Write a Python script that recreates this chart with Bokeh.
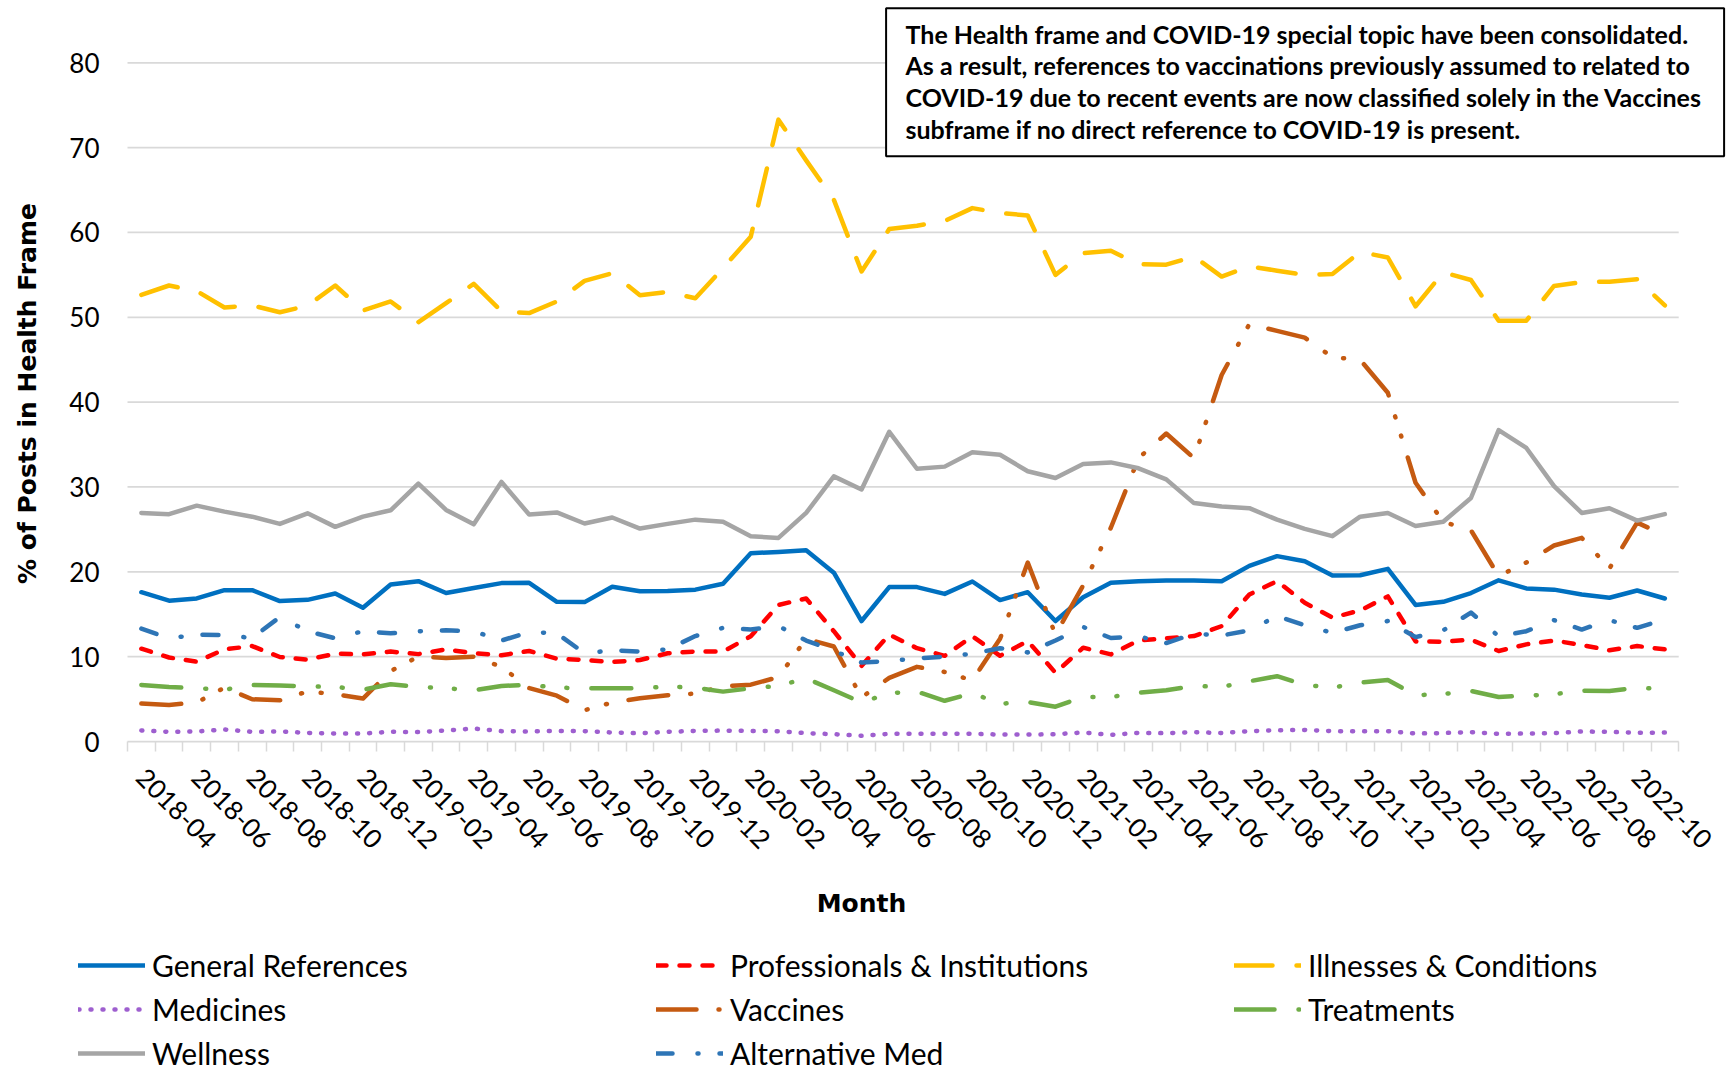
import math
from bokeh.plotting import figure
from bokeh.models import (Range1d, FixedTicker, Legend, LegendItem, Label, BoxAnnotation)
from bokeh.embed import file_html
from bokeh.resources import INLINE

# ---------------- data ----------------
months = ["2018-04", "2018-05", "2018-06", "2018-07", "2018-08", "2018-09", "2018-10", "2018-11", "2018-12",
          "2019-01", "2019-02", "2019-03", "2019-04", "2019-05", "2019-06", "2019-07", "2019-08", "2019-09",
          "2019-10", "2019-11", "2019-12", "2020-01", "2020-02", "2020-03", "2020-04", "2020-05", "2020-06",
          "2020-07", "2020-08", "2020-09", "2020-10", "2020-11", "2020-12", "2021-01", "2021-02", "2021-03",
          "2021-04", "2021-05", "2021-06", "2021-07", "2021-08", "2021-09", "2021-10", "2021-11", "2021-12",
          "2022-01", "2022-02", "2022-03", "2022-04", "2022-05", "2022-06", "2022-07", "2022-08", "2022-09",
          "2022-10", "2022-11"]

general_references = [17.6, 16.6, 16.86, 17.84, 17.84, 16.55, 16.7, 17.45, 15.76, 18.5, 18.9, 17.5, 18.1, 18.67,
                      18.7, 16.47, 16.43, 18.24, 17.7, 17.73, 17.9, 18.6, 22.2, 22.35, 22.55, 19.9, 14.2, 18.2,
                      18.2, 17.4, 18.86, 16.67, 17.6, 14.2, 17.0, 18.7, 18.9, 18.98, 18.98, 18.9, 20.7, 21.85,
                      21.25, 19.57, 19.6, 20.35, 16.1, 16.47, 17.5, 19.0, 18.04, 17.9, 17.33, 16.94, 17.8, 16.86]

professionals_institutions = [10.94, 9.9, 9.4, 10.86, 11.25, 9.96, 9.65, 10.35, 10.27, 10.6, 10.3, 10.86, 10.4,
                              10.16, 10.67, 9.76, 9.6, 9.37, 9.6, 10.4, 10.6, 10.6, 12.4, 16.1, 16.86, 13.0, 8.9,
                              12.6, 11.0, 10.1, 12.4, 10.1, 11.84, 8.1, 11.06, 10.27, 11.9, 12.16, 12.43, 13.6,
                              17.33, 18.9, 16.35, 14.6, 15.45, 17.1, 11.8, 11.76, 12.0, 10.67, 11.45, 11.9, 11.37,
                              10.75, 11.25, 10.86]

illnesses_conditions = [52.65, 53.75, 53.1, 51.16, 51.4, 50.6, 51.36, 53.75, 50.8, 51.87, 49.43, 51.67, 53.95,
                        50.7, 50.5, 51.87, 54.3, 55.2, 52.6, 53.0, 52.25, 55.8, 59.5, 73.3, 68.5, 63.85, 55.4,
                        60.4, 60.8, 61.35, 62.87, 62.3, 62.0, 55.0, 57.56, 57.84, 56.27, 56.2, 57.17, 54.8, 56.0,
                        55.5, 55.0, 55.1, 57.7, 57.05, 51.3, 55.3, 54.4, 49.6, 49.6, 53.7, 54.15, 54.2, 54.5, 51.4]

medicines = [1.3, 1.14, 1.18, 1.41, 1.14, 1.18, 1.02, 0.94, 0.94, 1.14, 1.12, 1.29, 1.53, 1.22, 1.18, 1.25, 1.22,
             1.06, 0.97, 1.14, 1.25, 1.29, 1.25, 1.22, 0.98, 0.86, 0.67, 0.9, 0.9, 0.9, 0.9, 0.82, 0.82, 0.86,
             1.06, 0.78, 1.02, 0.98, 1.1, 1.0, 1.22, 1.33, 1.37, 1.22, 1.22, 1.22, 0.94, 1.0, 1.1, 0.9, 0.94,
             0.98, 1.18, 1.14, 1.02, 1.06]

vaccines = [4.47, 4.31, 4.6, 6.35, 4.98, 4.86, 5.9, 5.57, 5.06, 8.3, 10.0, 9.85, 10.0, 8.8, 6.3, 5.4, 3.69, 4.6,
            5.1, 5.45, 5.65, 6.5, 6.7, 7.6, 12.1, 11.2, 5.2, 7.5, 8.8, 8.2, 7.2, 12.1, 21.1, 12.6, 18.4, 25.2,
            33.4, 36.3, 33.4, 43.2, 49.2, 48.4, 47.6, 45.3, 45.0, 41.1, 30.5, 25.9, 24.9, 19.5, 21.1, 23.1, 24.0,
            20.4, 25.8, 24.3]

treatments = [6.67, 6.43, 6.27, 6.1, 6.67, 6.6, 6.5, 6.43, 6.1, 6.75, 6.43, 6.27, 6.04, 6.55, 6.67, 6.35, 6.27,
              6.27, 6.27, 6.47, 6.35, 5.88, 6.27, 6.55, 7.45, 6.04, 4.6, 5.7, 5.88, 4.8, 5.7, 4.45, 4.65, 4.1, 5.25,
              5.25, 5.75, 6.04, 6.55, 6.43, 7.1, 7.7, 6.67, 6.35, 6.94, 7.25, 5.45, 5.6, 5.96, 5.25, 5.4, 5.57,
              6.0, 5.96, 6.35, 6.16]

wellness = [26.94, 26.8, 27.8, 27.1, 26.5, 25.65, 26.9, 25.3, 26.5, 27.25, 30.4, 27.3, 25.6, 30.6, 26.75, 27.0,
            25.7, 26.4, 25.1, 25.65, 26.15, 25.9, 24.2, 24.0, 26.94, 31.25, 29.7, 36.5, 32.15, 32.4, 34.1, 33.8,
            31.85, 31.06, 32.7, 32.9, 32.2, 30.9, 28.1, 27.7, 27.5, 26.15, 25.06, 24.2, 26.5, 26.94, 25.4, 25.9,
            28.7, 36.7, 34.6, 30.1, 26.94, 27.5, 26.04, 26.8]

alternative_med = [13.3, 12.16, 12.6, 12.55, 12.2, 14.67, 13.0, 12.16, 13.0, 12.75, 13.0, 13.1, 13.0, 11.9, 12.9,
                   12.75, 10.4, 10.75, 10.6, 10.86, 12.43, 13.4, 13.2, 13.6, 11.9, 10.7, 9.3, 9.5, 9.8, 10.0,
                   10.35, 11.0, 10.5, 11.9, 13.5, 12.2, 12.4, 11.6, 12.7, 12.5, 13.1, 14.8, 13.7, 12.8, 13.7,
                   14.2, 12.3, 13.1, 15.2, 12.4, 13.0, 14.3, 13.2, 14.3, 13.4, 14.4]

series_names = ["General References", "Professionals & Institutions", "Illnesses & Conditions", "Medicines",
                "Vaccines", "Treatments", "Wellness", "Alternative Med"]
y_ticks = [0, 10, 20, 30, 40, 50, 60, 70, 80]
note_lines = ["The Health frame and COVID-19 special topic have been consolidated.",
              "As a result, references to vaccinations previously assumed to related to",
              "COVID-19 due to recent events are now classified solely in the Vaccines",
              "subframe if no direct reference to COVID-19 is present."]

# ---------------- styles ----------------
styles = [
    ("#0070C0", "solid"),
    ("#FF0000", "10 13"),
    ("#FFC000", "38 24"),
    ("#9E5FCF", "1 11"),
    ("#C55A11", "40 22 1 19 1 22"),
    ("#70AD47", "40 24 1 23 1 24"),
    ("#A5A5A5", "solid"),
    ("#2E75B6", "16 25 1 21"),
]
all_series = [general_references, professionals_institutions, illnesses_conditions, medicines,
              vaccines, treatments, wellness, alternative_med]

n = len(months)
xs = list(range(n))

# frame covers the whole canvas; axes are pinned inside it
W, H = 1735, 1071
AX_L, AX_B = 127, 741          # where the category axis / value axis sit (px from left / top)
PX_X = 27.7                    # px per category
PX_Y = 678.7 / 80.0            # px per percentage point
x_start = -0.5 - AX_L / PX_X
x_end = -0.5 + (W - AX_L) / PX_X
y_start = -(H - AX_B) / PX_Y
y_end = AX_B / PX_Y

p = figure(width=W, height=H, x_range=Range1d(x_start, x_end), y_range=Range1d(y_start, y_end),
           output_backend="svg", toolbar_location=None,
           min_border=0, min_border_left=0, min_border_right=0, min_border_top=0, min_border_bottom=0)
p.outline_line_color = None
p.background_fill_color = "white"
p.border_fill_color = "white"

# horizontal gridlines spanning the category area
p.xgrid.visible = False
p.ygrid.visible = False
p.segment(x0=[-0.5] * len(y_ticks), x1=[n - 0.5] * len(y_ticks), y0=y_ticks, y1=y_ticks,
          line_color="#D9D9D9", line_width=1.75, level="underlay")

# y axis (pinned at the left edge of the category area)
yax = p.yaxis[0]
yax.fixed_location = -0.5
yax.ticker = FixedTicker(ticks=y_ticks)
yax.axis_line_color = None
yax.major_tick_line_color = None
yax.minor_tick_line_color = None
yax.major_tick_out = 0
yax.major_tick_in = 0
yax.major_label_standoff = 28
yax.major_label_text_font = "Lato"
yax.major_label_text_font_size = "26px"
yax.major_label_text_color = "black"

# x axis (pinned at value 0)
xax = p.xaxis[0]
xax.fixed_location = 0
label_idx = list(range(0, n, 2))
xax.ticker = FixedTicker(ticks=label_idx, minor_ticks=[i - 0.5 for i in range(n + 1)])
xax.major_label_overrides = {i: months[i] for i in label_idx}
xax.major_tick_line_color = None
xax.major_tick_out = 0
xax.major_tick_in = 0
xax.minor_tick_out = 10
xax.minor_tick_in = 0
xax.minor_tick_line_color = "#D9D9D9"
xax.minor_tick_line_width = 1.5
xax.axis_line_color = None
xax.major_label_orientation = -math.pi / 4
xax.major_label_standoff = 21
xax.major_label_text_font = "Lato"
xax.major_label_text_font_size = "26px"
xax.major_label_text_color = "black"

# lines
renderers = []
for vals, (color, dash) in zip(all_series, styles):
    r = p.line(x=xs, y=vals, line_color=color, line_width=4.5, line_dash=dash,
               line_cap="round", line_join="round")
    renderers.append(r)

# axis titles (screen px measured from the canvas bottom-left)
p.add_layout(Label(x=861, y=H - 903, x_units="screen", y_units="screen", text="Month",
                   text_align="center", text_baseline="middle", text_font="DejaVu Sans",
                   text_font_style="bold", text_font_size="25px", text_color="black"))
p.add_layout(Label(x=27, y=H - 393, x_units="screen", y_units="screen", text="% of Posts in Health Frame",
                   angle=math.pi / 2, text_align="center", text_baseline="middle", text_font="DejaVu Sans",
                   text_font_style="bold", text_font_size="25px", text_color="black"))

# legend
legend = Legend(items=[LegendItem(label=nm, renderers=[r]) for nm, r in zip(series_names, renderers)],
                location=(78, -4), orientation="horizontal", ncols=3,
                glyph_width=67, glyph_height=44, label_height=44, label_width=504,
                label_standoff=7, spacing=0, padding=0, margin=0,
                border_line_color=None, background_fill_alpha=0,
                label_text_font="Lato", label_text_font_size="30px", label_text_color="black",
                label_text_baseline="middle")
p.add_layout(legend)

# note box
p.add_layout(BoxAnnotation(left=885.6, right=1723.6, top=H - 7.7, bottom=H - 155.7,
                           left_units="screen", right_units="screen", top_units="screen", bottom_units="screen",
                           fill_color="white", fill_alpha=1.0, line_color="black", line_width=2, line_alpha=1.0))
for k, line in enumerate(note_lines):
    p.add_layout(Label(x=905, y=H - 33 - 31.7 * k, x_units="screen", y_units="screen", text=line,
                       text_align="left", text_baseline="middle", text_font="Lato",
                       text_font_style="bold", text_font_size="25px", text_color="black"))

open("out.html", "w").write(file_html(p, INLINE))
